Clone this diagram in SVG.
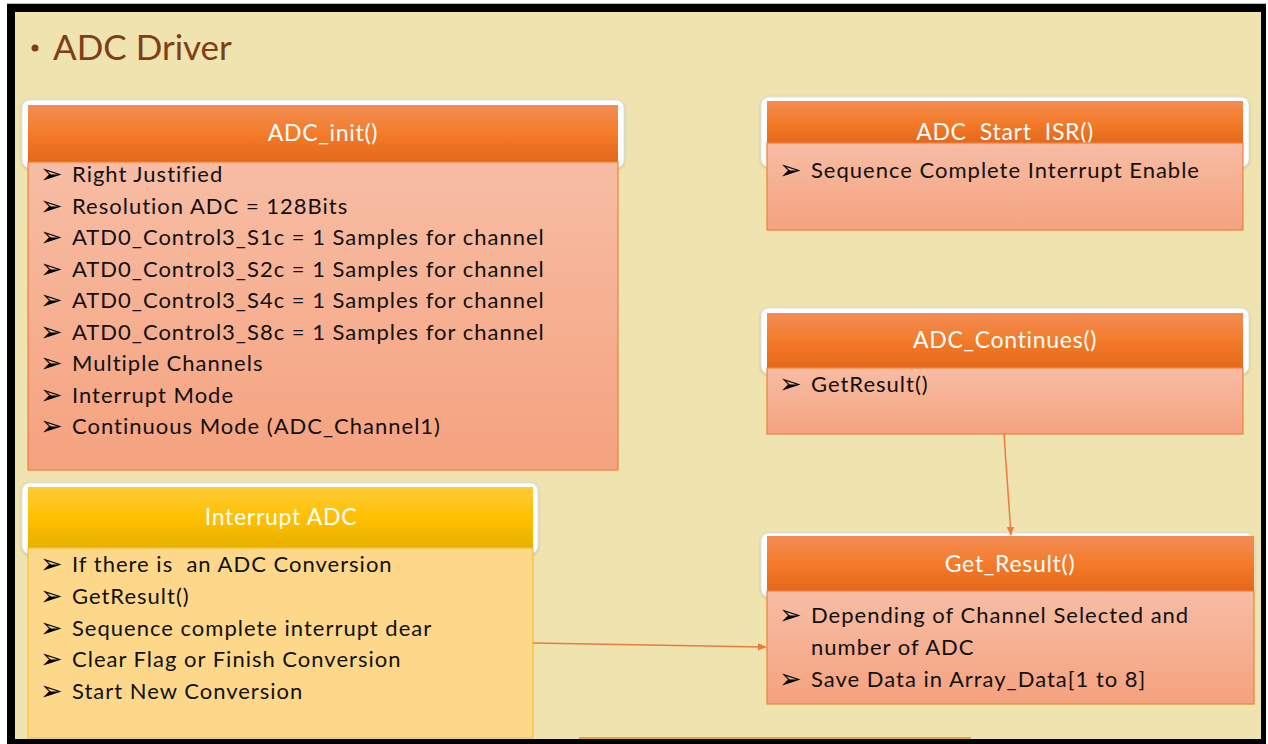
<svg xmlns="http://www.w3.org/2000/svg" width="1268" height="744" viewBox="0 0 1268 744">
  <defs>
    <style>
      .title { font-family: Lato, "Liberation Sans", sans-serif; font-size: 35px; fill: #7F3F16; }
      .head { font-family: Lato, "Liberation Sans", sans-serif; font-size: 23px; letter-spacing: 0.7px; fill: #FFFFFF; text-anchor: middle; }
      .item { font-family: Lato, "Liberation Sans", sans-serif; font-size: 22px; letter-spacing: 1px; fill: #111111; }
      .pre { white-space: pre; }
      .bul { font-family: "DejaVu Sans", sans-serif; font-size: 27px; fill: #000000; }
      .halo { fill: #FFFFFF; stroke: #E2E2E2; stroke-width: 1; filter: url(#shadow); }
      .orangeHead { fill: url(#gOrangeHead); }
      .orangeBody { fill: url(#gOrangeBody); stroke: #F0803A; stroke-width: 1.2; }
      .goldHead { fill: url(#gGoldHead); }
      .goldBody { fill: #FDD88A; stroke: #F8C030; stroke-width: 1.2; }
      .conn { stroke: #EE7B3C; stroke-width: 1.5; fill: none; marker-end: url(#arrow); }
    </style>
    <linearGradient id="gOrangeHead" x1="0" y1="0" x2="0" y2="1">
      <stop offset="0" stop-color="#F28D55"/>
      <stop offset="0.5" stop-color="#F47B2A"/>
      <stop offset="1" stop-color="#E4681B"/>
    </linearGradient>
    <linearGradient id="gOrangeBody" x1="0" y1="0" x2="0" y2="1">
      <stop offset="0" stop-color="#F7BDA4"/>
      <stop offset="1" stop-color="#F5A27F"/>
    </linearGradient>
    <linearGradient id="gGoldHead" x1="0" y1="0" x2="0" y2="1">
      <stop offset="0" stop-color="#FFCC3A"/>
      <stop offset="0.5" stop-color="#FFC000"/>
      <stop offset="1" stop-color="#E6B000"/>
    </linearGradient>
    <filter id="shadow" x="-5%" y="-20%" width="110%" height="140%">
      <feDropShadow dx="0" dy="1" stdDeviation="1.5" flood-color="#9A8F70" flood-opacity="0.45"/>
    </filter>
    <marker id="arrow" viewBox="0 0 10 10" refX="9" refY="5" markerWidth="6" markerHeight="6" orient="auto">
      <path d="M0,1 L10,5 L0,9 Z" fill="#EE7B3C"/>
    </marker>
  </defs>

  <!-- frame and page -->
  <rect x="0" y="0" width="1268" height="744" fill="#FFFFFF"/>
  <rect x="7" y="3" width="1259" height="1" fill="#B8B8B8"/>
  <rect x="7" y="4" width="1259" height="740" fill="#000000"/>
  <rect x="15" y="12" width="1246" height="727" fill="#EFE3AF"/>
  <rect x="579" y="737" width="392" height="2" fill="#E2AE10"/>

  <!-- heading -->
  <g id="heading">
    <circle cx="35" cy="48" r="3.5" fill="#7F3F16"/>
    <text class="title" x="53" y="60">ADC Driver</text>
  </g>

  <!-- ADC_init() -->
  <g id="adc-init">
    <rect class="halo" x="22" y="100" width="602" height="68" rx="8"/>
    <rect class="orangeHead" x="28" y="105" width="590" height="57"/>
    <rect class="orangeBody" x="28" y="162" width="590" height="308"/>
    <text class="head" x="323" y="141">ADC_init()</text>
    <g class="bul">
      <text x="40" y="183">➢</text>
      <text x="40" y="214.5">➢</text>
      <text x="40" y="246">➢</text>
      <text x="40" y="277.5">➢</text>
      <text x="40" y="309">➢</text>
      <text x="40" y="340.5">➢</text>
      <text x="40" y="372">➢</text>
      <text x="40" y="403.5">➢</text>
      <text x="40" y="435">➢</text>
    </g>
    <g class="item">
      <text x="72" y="182">Right Justified</text>
      <text x="72" y="213.5">Resolution ADC = 128Bits</text>
      <text x="72" y="245">ATD0_Control3_S1c = 1 Samples for channel</text>
      <text x="72" y="276.5">ATD0_Control3_S2c = 1 Samples for channel</text>
      <text x="72" y="308">ATD0_Control3_S4c = 1 Samples for channel</text>
      <text x="72" y="339.5">ATD0_Control3_S8c = 1 Samples for channel</text>
      <text x="72" y="371">Multiple Channels</text>
      <text x="72" y="402.5">Interrupt Mode</text>
      <text x="72" y="434">Continuous Mode (ADC_Channel1)</text>
    </g>
  </g>

  <!-- ADC_Start_ISR() -->
  <g id="adc-start-isr">
    <rect class="halo" x="761" y="97" width="488" height="70" rx="8"/>
    <rect class="orangeHead" x="767" y="101" width="476" height="42"/>
    <text class="head pre" x="1005" y="140">ADC  Start  ISR()</text>
    <rect class="orangeBody" x="767" y="143" width="476" height="87"/>
    <text class="bul" x="779" y="179">➢</text>
    <text class="item" x="811" y="178">Sequence Complete Interrupt Enable</text>
  </g>

  <!-- ADC_Continues() -->
  <g id="adc-continues">
    <rect class="halo" x="761" y="308" width="488" height="66" rx="8"/>
    <rect class="orangeHead" x="767" y="313" width="476" height="55"/>
    <rect class="orangeBody" x="767" y="368" width="476" height="66"/>
    <text class="head" x="1005" y="348">ADC_Continues()</text>
    <text class="bul" x="779" y="393">➢</text>
    <text class="item" x="811" y="392">GetResult()</text>
  </g>

  <!-- Interrupt ADC -->
  <g id="interrupt-adc">
    <rect class="halo" x="22" y="483" width="516" height="71" rx="8"/>
    <rect class="goldHead" x="28" y="487" width="505" height="61"/>
    <rect class="goldBody" x="28" y="548" width="505" height="190"/>
    <text class="head" x="281" y="525">Interrupt ADC</text>
    <g class="bul">
      <text x="40" y="573">➢</text>
      <text x="40" y="605">➢</text>
      <text x="40" y="637">➢</text>
      <text x="40" y="668">➢</text>
      <text x="40" y="700">➢</text>
    </g>
    <g class="item">
      <text class="pre" x="72" y="572">If there is  an ADC Conversion</text>
      <text x="72" y="604">GetResult()</text>
      <text x="72" y="636">Sequence complete interrupt dear</text>
      <text x="72" y="667">Clear Flag or Finish Conversion</text>
      <text x="72" y="699">Start New Conversion</text>
    </g>
  </g>

  <!-- Get_Result() -->
  <g id="get-result">
    <rect class="halo" x="761" y="533" width="493" height="64" rx="8"/>
    <rect class="orangeHead" x="767" y="536" width="487" height="55"/>
    <rect class="orangeBody" x="767" y="591" width="487" height="113"/>
    <text class="head" x="1010" y="572">Get_Result()</text>
    <text class="bul" x="779" y="624">➢</text>
    <text class="bul" x="779" y="688">➢</text>
    <text class="item" x="811" y="623">Depending of Channel Selected and</text>
    <text class="item" x="811" y="655">number of ADC</text>
    <text class="item" x="811" y="687">Save Data in Array_Data[1 to 8]</text>
  </g>

  <!-- connectors -->
  <g id="connectors">
    <line class="conn" x1="1004" y1="434" x2="1011" y2="535"/>
    <line class="conn" x1="533" y1="643" x2="766" y2="647"/>
  </g>
</svg>
